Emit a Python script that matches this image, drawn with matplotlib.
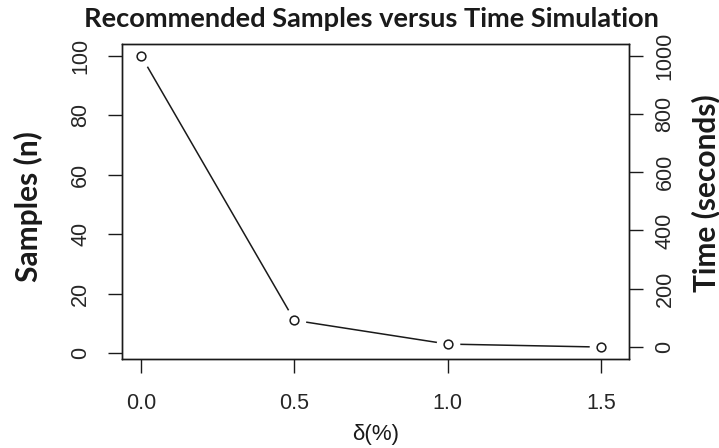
import matplotlib
matplotlib.use('Agg')
import matplotlib.pyplot as plt

# delta (%) against recommended number of samples and simulation time
delta = [0.0, 0.5, 1.0, 1.5]
samples = [100, 11, 3, 2]
times = [1000, 90, 10, 0]

x_ticks = [0.0, 0.5, 1.0, 1.5]
left_ticks = [0, 20, 40, 60, 80, 100]
right_ticks = [0, 200, 400, 600, 800, 1000]

INK = '#1a1a1a'
plt.rcParams['font.family'] = ['Liberation Sans', 'DejaVu Sans']


def padded(vals, frac=0.04):
    # R-style 4% padding around the data range
    lo, hi = min(vals), max(vals)
    d = (hi - lo) * frac
    return lo - d, hi + d


fig = plt.figure(figsize=(7.19, 4.48), dpi=100)
ax = fig.add_axes([0.1701, 0.1993, 0.7047, 0.7025])

# type="b": line with gaps around open circles
ax.plot(delta, samples, color=INK, lw=1.1, zorder=1.5)
ax.plot(delta, samples, 'o', ms=17, mfc='white', mec='none', zorder=1.8)
ax.plot(delta, samples, 'o', ms=6.3, mfc='none', mec=INK, mew=1.1, zorder=2)

ax.set_xlim(-0.061, 1.591)
ax.set_ylim(*padded(samples))
ax.set_xticks(x_ticks)
ax.set_xticklabels([f'{v:.1f}' for v in x_ticks])
ax.set_yticks(left_ticks)

ax2 = ax.twinx()
ax2.set_ylim(*padded(times))
ax2.set_yticks(right_ticks)

for a in (ax, ax2):
    for s in a.spines.values():
        s.set_linewidth(1.0)
        s.set_color(INK)
    a.tick_params(length=10.4, width=1.0, color=INK, labelsize=15.5,
                  labelcolor='#262626')

ax.tick_params(axis='x', pad=14)
ax.tick_params(axis='y', pad=12)
ax2.tick_params(axis='y', pad=8)
for lab in ax.get_yticklabels() + ax2.get_yticklabels():
    lab.set_rotation(90)
    lab.set_va('center')

ax.set_xlabel('δ(%)', fontsize=16, color=INK)
ax.xaxis.set_label_coords(0.5, -0.24)
ax.xaxis.label.set_va('center')

bold = dict(family='Lato', weight='bold', color=INK)
ax.set_ylabel('Samples (n)', fontsize=21.5, **bold)
ax.yaxis.set_label_coords(-0.186, 0.482)
ax.yaxis.label.set_va('center')

ax2.set_ylabel('Time (seconds)', fontsize=21.5, rotation=90, **bold)
ax2.yaxis.set_label_coords(1.152, 0.527)
ax2.yaxis.label.set_va('center')

fig.text(371 / 719, 1 - 19 / 448, 'Recommended Samples versus Time Simulation',
         ha='center', va='center', fontsize=19.6, **bold)

fig.savefig('out.png', dpi=100)
